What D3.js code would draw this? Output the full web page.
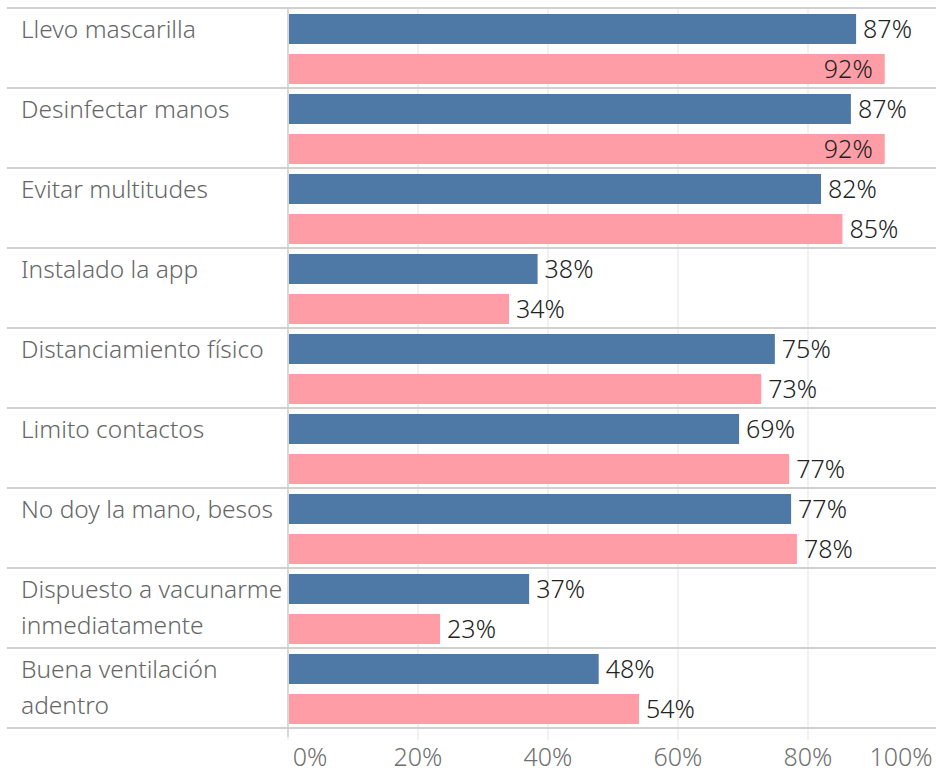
<!DOCTYPE html>
<html>
<head>
    <meta charset="utf-8">
    <script src="https://d3js.org/d3.v7.min.js"></script>
    <style>
        body { margin: 0; padding: 0; background: #fff; overflow: hidden; }
        text { font-family: "Noto Sans", Lato, sans-serif; font-weight: 300; }
    </style>
</head>
<body>
    <script>
        // data
        var categories = ["Llevo mascarilla", "Desinfectar manos", "Evitar multitudes", "Instalado la app",
            "Distanciamiento físico", "Limito contactos", "No doy la mano, besos",
            "Dispuesto a vacunarme inmediatamente", "Buena ventilación adentro"];
        var series = ["a", "b"];
        var seriesA = [0.874, 0.866, 0.82, 0.384, 0.749, 0.694, 0.774, 0.371, 0.478];
        var seriesB = [0.918, 0.918, 0.853, 0.34, 0.728, 0.771, 0.783, 0.234, 0.54];
        var ticks = [0, 0.2, 0.4, 0.6, 0.8, 1];
        var colors = ["#4e79a7", "#ff9da7"];

        var width = 936, height = 773;
        var left = 288, marginTop = 8, rowH = 80;

        var svg = d3.select("body").append("svg")
            .attr("width", width)
            .attr("height", height);

        var x = d3.scaleLinear().domain([0, 1]).range([left, left + 650]);
        var y = d3.scaleBand().domain(categories).range([marginTop, marginTop + rowH * categories.length]);
        var ySub = d3.scaleBand().domain(series).range([0, rowH]).paddingInner(0.25).paddingOuter(0.125);

        // gridlines
        svg.append("g").selectAll("line")
            .data(ticks)
            .join("line")
            .attr("x1", d => x(d)).attr("x2", d => x(d))
            .attr("y1", marginTop).attr("y2", 740)
            .attr("stroke", "#ececec").attr("stroke-width", 1.5);

        // row separators
        svg.append("g").selectAll("line")
            .data(d3.range(categories.length + 1))
            .join("line")
            .attr("x1", 7).attr("x2", width)
            .attr("y1", i => marginTop + i * rowH).attr("y2", i => marginTop + i * rowH)
            .attr("stroke", "#d0d0d0").attr("stroke-width", 2);

        svg.append("line")
            .attr("x1", left).attr("x2", left)
            .attr("y1", marginTop).attr("y2", 737)
            .attr("stroke", "#d0d0d0").attr("stroke-width", 1.5);

        var rows = categories.map((c, i) => ({ cat: c, vals: [seriesA[i], seriesB[i]] }));
        var fmt = d3.format(".0%");

        var g = svg.append("g").selectAll("g")
            .data(rows)
            .join("g")
            .attr("transform", d => "translate(0," + y(d.cat) + ")");

        g.selectAll("rect")
            .data(d => d.vals.map((v, k) => ({ v: v, s: series[k], k: k })))
            .join("rect")
            .attr("x", x(0) + 1)
            .attr("y", d => ySub(d.s) + 1)
            .attr("width", d => x(d.v) - x(0) - 1)
            .attr("height", ySub.bandwidth())
            .attr("fill", d => colors[d.k]);

        g.selectAll("text.val")
            .data(d => d.vals.map((v, k) => ({ v: v, s: series[k], k: k })))
            .join("text")
            .attr("class", "val")
            .attr("y", d => ySub(d.s) + 1 + ySub.bandwidth() / 2)
            .attr("dy", "0.36em")
            .attr("font-size", 25)
            .attr("fill", "#222")
            .text(d => fmt(d.v))
            .each(function (d) {
                var t = d3.select(this);
                var w = this.getComputedTextLength();
                if (x(d.v) + 7 + w > width - 4) {
                    t.attr("x", x(d.v) - 12).attr("text-anchor", "end");
                } else {
                    t.attr("x", x(d.v) + 7);
                }
            });

        // category labels, wrapped to the label column
        g.append("text")
            .attr("class", "cat")
            .attr("x", 21)
            .attr("font-size", 24.5)
            .attr("fill", "#666")
            .each(function (d) {
                var t = d3.select(this);
                var words = d.cat.split(" "), lines = [], line = [];
                words.forEach(w => {
                    line.push(w);
                    t.text(line.join(" "));
                    if (this.getComputedTextLength() > 282 && line.length > 1) {
                        line.pop();
                        lines.push(line.join(" "));
                        line = [w];
                    }
                });
                lines.push(line.join(" "));
                t.text(null);
                lines.forEach((l, i) => {
                    t.append("tspan").attr("x", 21).attr("y", 30 + i * 36).text(l);
                });
            });

        // x axis labels
        svg.append("g").selectAll("text")
            .data(ticks)
            .join("text")
            .attr("x", d => d === 0 ? x(d) + 22 : d === 1 ? x(d) - 37 : x(d))
            .attr("y", 766)
            .attr("text-anchor", "middle")
            .attr("font-size", 25)
            .attr("fill", "#707070")
            .text(d => fmt(d));
    </script>
</body>
</html>
